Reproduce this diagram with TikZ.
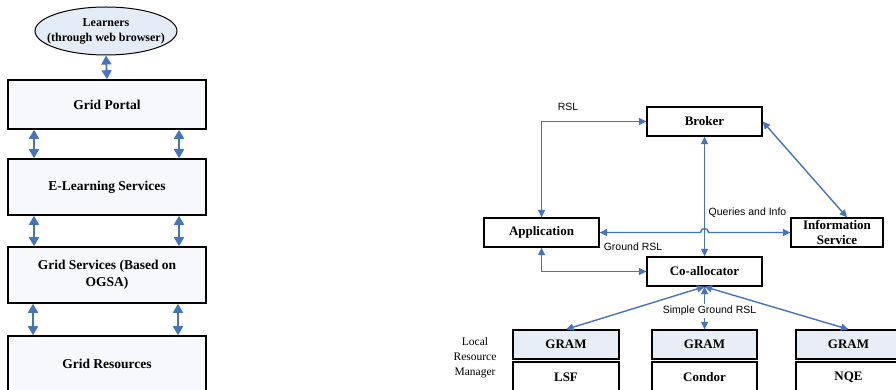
\documentclass[tikz,border=0pt]{standalone}
\usepackage{fontspec}
\setmainfont{Liberation Serif}
\newfontfamily\lblfont{Liberation Sans}
\usetikzlibrary{arrows.meta,shapes.geometric}
\definecolor{arrblue}{RGB}{68,114,196}
\definecolor{ellfill}{RGB}{228,236,247}
\definecolor{gramfill}{RGB}{232,238,248}
\definecolor{layfill}{RGB}{246,248,252}
\begin{document}
\begin{tikzpicture}[x=1pt,y=-1pt,
  layer/.style={draw=black, line width=1.6pt, fill=layfill, minimum width=198pt, inner sep=0pt, align=center, font=\fontsize{13.5}{16}\selectfont\bfseries},
  rbox/.style={draw=black, line width=1.3pt, fill=white, inner sep=0pt, align=center, font=\fontsize{13}{15}\selectfont\bfseries},
  gram/.style={rbox, fill=gramfill},
  larr/.style={draw=arrblue, line width=1.8pt, {Triangle[length=9pt,width=10pt]}-{Triangle[length=9pt,width=10pt]}},
  rarr/.style={draw=arrblue, line width=1.4pt, {Triangle[length=7.5pt,width=7pt]}-{Triangle[length=7.5pt,width=7pt]}},
  lbl/.style={font=\lblfont\fontsize{10.5}{12}\selectfont, inner sep=1pt}
]
\useasboundingbox (0,0) rectangle (896,390);
\clip (0,0) rectangle (896,390);

% ---------- left stack ----------
\node[draw=black, line width=1pt, fill=ellfill, ellipse, minimum width=142pt, minimum height=48pt, inner xsep=-11pt, inner ysep=-2pt, align=center, font=\fontsize{12}{15}\selectfont\bfseries] (learn) at (106,31) {Learners\\(through web browser)};
\node[layer, minimum height=49pt] (portal) at (107,104.5) {Grid Portal};
\node[layer, minimum height=56pt] (elearn) at (107,187) {E-Learning Services};
\node[layer, minimum height=56pt, font=\fontsize{13.5}{16.5}\selectfont\bfseries] (gsvc) at (107,275) {Grid Services (Based on\\OGSA)};
\node[layer, minimum height=56pt] (gres) at (107,364) {Grid Resources};

\draw[larr] (learn.south) -- (portal.north);
\draw[larr] ([xshift=-73pt]portal.south) -- ([xshift=-73pt]elearn.north);
\draw[larr] ([xshift=72pt]portal.south) -- ([xshift=72pt]elearn.north);
\draw[larr] ([xshift=-73pt]elearn.south) -- ([xshift=-73pt]gsvc.north);
\draw[larr] ([xshift=72pt]elearn.south) -- ([xshift=72pt]gsvc.north);
\draw[larr] ([xshift=-74pt]gsvc.south) -- ([xshift=-74pt]gres.north);
\draw[larr] ([xshift=71pt]gsvc.south) -- ([xshift=71pt]gres.north);

% ---------- right diagram ----------
\node[rbox, minimum width=115pt, minimum height=29pt] (broker) at (704.5,121.5) {Broker};
\node[rbox, minimum width=115pt, minimum height=29pt] (app) at (541.5,232.5) {Application};
\node[rbox, minimum width=115pt, minimum height=29pt] (coall) at (704.5,271.5) {Co-allocator};
\node[rbox, minimum width=92pt, minimum height=29pt, font=\fontsize{13}{15}\selectfont\bfseries] (info) at (837,232.5) {Information\\Service};

\node[gram, minimum width=106pt, minimum height=29pt] (gram1) at (566,344.5) {GRAM};
\node[gram, minimum width=105pt, minimum height=29pt] (gram2) at (704.5,344.5) {GRAM};
\node[gram, minimum width=105pt, minimum height=29pt] (gram3) at (848.5,344.5) {GRAM};
\node[rbox, minimum width=106pt, minimum height=30pt] (lsf) at (566,377) {LSF};
\node[rbox, minimum width=105pt, minimum height=30pt] (condor) at (704.5,377) {Condor};
\node[rbox, minimum width=105pt, minimum height=30pt] (nqe) at (848.5,377) {NQE};

\node[align=center, inner sep=0pt, font=\fontsize{11.5}{15}\selectfont] (lrm) at (475,358) {Local\\Resource\\Manager};

% connectors
\draw[rarr] (app.north) |- (broker.west);
\node[lbl] (rsl) at (568,107) {RSL};
\draw[rarr] (broker.south) -- (coall.north);
\draw[rarr] (app.east) -- ([xshift=-4pt]app.east -| coall.north) arc[start angle=180, end angle=0, radius=4pt] -- (info.west);
\node[lbl] (qi) at (747.5,213) {Queries and Info};
\node[lbl] (grsl) at (633,247) {Ground RSL};
\draw[rarr] (broker.east) -- ([xshift=10pt]info.north);
\draw[rarr] (app.south) |- (coall.west);
\draw[rarr] (coall.south) -- (gram1.north);
\draw[rarr] (coall.south) -- (gram3.north);
\draw[rarr] (coall.south) -- (gram2.north);
\node[lbl, fill=white, inner sep=2pt] (sgrsl) at (709.5,311) {Simple Ground RSL};
\end{tikzpicture}
\end{document}
